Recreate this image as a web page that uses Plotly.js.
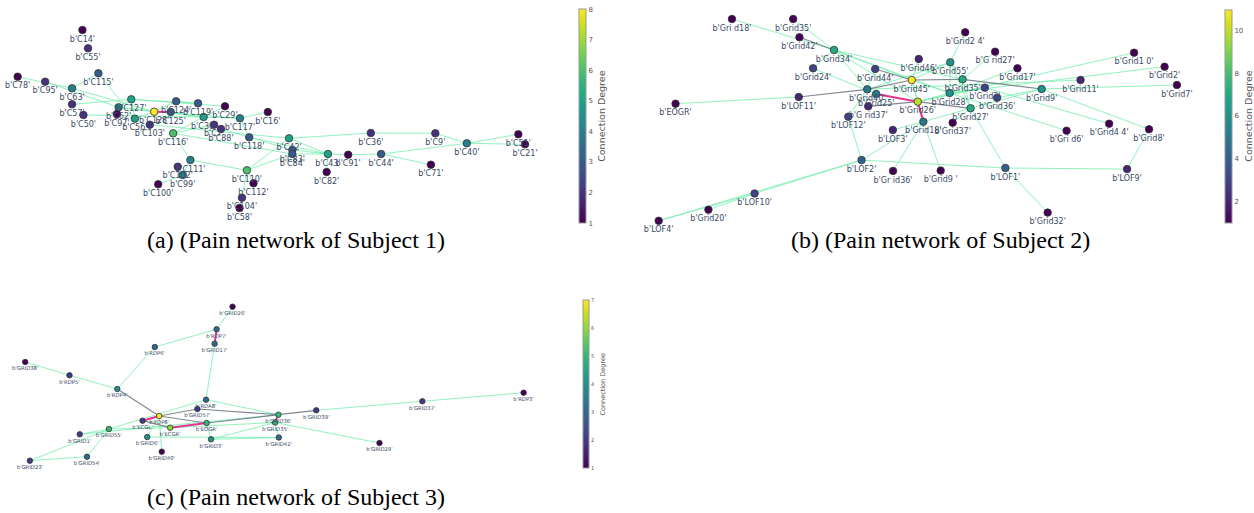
<!DOCTYPE html>
<html><head><meta charset="utf-8">
<script src="https://cdn.plot.ly/plotly-3.0.1.min.js"></script>
<style>html,body{margin:0;padding:0;background:#fff}#chart{width:1254px;height:513px}</style>
</head><body><div id="chart"></div>
<script>
// ---------- Panel (a): Subject 1 ----------
const idsA = ["C14","C55","C115","C78","C95","C63","C127","C124","C119","C29","C16","C57","C62","C97","C50","C128","C125","C56","C103","C30","C7","C88","C117","C116","C118","C42","C83","C84","C111","C102","C99","C100","C110","C112","C104","C58","C36","C9","C40","C51","C21","C43","C91","C44","C71","C82"];
const labelsA = idsA.map(s => "b'" + s + "'");
const xA = [82.7,88.3,98.7,17.7,45.3,72.3,131.7,176.7,198.7,225.7,268.7,72.3,119,117.3,83.7,154.7,171.3,135.3,150.3,204.3,214.7,221.7,240.7,173.7,250,290,293.3,293.3,191,178.3,183.3,158.7,247.7,254.3,242.7,240.3,372,436.7,468.3,520,526.7,329,349.3,382.3,432.3,327.7];
const yA = [30,48.3,73.3,76.7,81.7,88.3,99.3,101.3,103.3,106.3,112,104.3,107.3,114,115,111.7,112,118.7,124.7,117,124.7,129,118.3,133.3,137.3,138.3,150,154,160,166.7,175,184.3,170.3,183.3,197.7,208,133,133.3,143.3,134.3,144.3,154,154.7,154,164.7,172];
const degA = [1,2,3,1,2,4,5,3,3,1,1,2,4,1,2,8,3,5,2,5,2,2,4,6,3,5,3,3,4,2,4,1,6,1,2,1,2,2,4,1,1,5,1,3,1,1];
const edgesA = [
 ["C78","C63","g"],["C95","C62","g"],["C63","C128","g"],["C115","C63","g"],["C115","C56","g"],
 ["C57","C127","g"],["C127","C119","g"],["C127","C62","g"],["C127","C56","g"],["C127","C29","g"],
 ["C62","C128","g"],["C62","C30","g"],["C50","C30","g"],["C128","C125","m"],["C128","C124","g"],
 ["C128","C56","g"],["C128","C117","g"],["C124","C119","g"],["C125","C30","g"],["C29","C30","g"],
 ["C30","C117","g"],["C30","C116","g"],["C117","C16","g"],["C117","C118","g"],["C103","C42","g"],
 ["C116","C84","g"],["C116","C111","g"],["C111","C99","g"],["C111","C110","g"],["C102","C99","g"],
 ["C99","C100","g"],["C110","C42","g"],["C110","C84","g"],["C110","C112","g"],["C110","C104","g"],
 ["C104","C58","g"],["C118","C43","g"],["C42","C36","g"],["C42","C43","g"],["C36","C9","g"],
 ["C9","C40","g"],["C40","C51","g"],["C40","C21","g"],["C40","C44","g"],["C43","C91","g"],
 ["C91","C44","g"],["C44","C71","g"],["C43","C82","g"],["C83","C43","g"],["C84","C43","g"],
 ["C88","C83","g"],["C7","C116","g"]
];

// ---------- Panel (b): Subject 2 ----------
const idsB = ["Grid18a","Grid35a","Grid42","Grid34","Grid24","Grid44","Grid45","Grid40","Grid25","LOF11","EOGR","Grid37a","LOF12","Grid26","Grid24b","Grid27a","Grid46","Grid55","Grid17","Grid35b","Grid10","Grid2","Grid11","Grid7","Grid9","Grid3","Grid28","Grid36","Grid27","Grid18","Grid37","LOF3","Grid6","Grid44b","Grid8","LOF2","Grid36b","Grid9b","LOF1","LOF9","Grid32","LOF10","Grid20","LOF4"];
const labelsB = ["b'Gri d18'","b'Grid35'","b'Grid42'","b'Grid34'","b'Grid24'","b'Grid44'","b'Grid45'","b'Grid40'","b'Grid25'","b'LOF11'","b'EOGR'","b'G rid37'","b'LOF12'","b'Grid26'","b'Grid2 4'","b'G rid27'","b'Grid46'","b'Grid55'","b'Grid17'","b'Grid35'","b'Grid1 0'","b'Grid2'","b'Grid11'","b'Grid7'","b'Grid9'","b'Grid3'","b'Grid28'","b'Grid36'","b'Grid27'","b'Grid18'","b'Grid37'","b'LOF3'","b'Gri d6'","b'Grid4 4'","b'Grid8'","b'LOF2'","b'Gr id36'","b'Grid9 '","b'LOF1'","b'LOF9'","b'Grid32'","b'LOF10'","b'Grid20'","b'LOF4'"];
const xB = [734.3,795.7,802,836.7,815.7,878,914.7,870,879,801.3,677.7,871,851,920.7,968.3,998.3,921.7,953.3,1020.7,965.7,1137.7,1168.3,1084,1180.7,1045,988,952.7,1000.3,973.7,926.3,955.7,895.7,1070,1112.7,1152.7,864.3,895.9,943.7,1008.6,1130.7,1051,757,710.7,660.8];
const yB = [19,19,37.3,50,68.3,69,80,89.3,94,97,103.7,106.3,116.7,101.7,32.3,51.7,59,62.3,68.3,79.3,52.7,66.7,80,85,89,87.7,93,97.7,108.3,121.7,122.7,130,130.7,123.7,129.3,160.1,170.9,170.6,168,169.1,212.6,193.5,209.7,220.8];
const degB = [1,1,1,7,3,3,11,5,5,2,1,2,3,10,1,1,2,6,1,7,1,1,2,1,6,3,6,3,7,5,1,2,1,1,1,4,1,1,4,2,1,3,1,1];
const edgesB = [
 ["Grid18a","Grid34","g"],["Grid35a","Grid34","g"],["Grid42","Grid34","k"],["Grid34","Grid24","g"],
 ["Grid34","Grid45","g"],["Grid34","Grid35b","g"],["Grid34","Grid28","g"],["Grid34","Grid40","g"],
 ["Grid34","Grid26","g"],["Grid24","Grid25","g"],["Grid44","Grid45","k"],["Grid44","Grid40","g"],
 ["Grid45","Grid35b","k"],["Grid45","Grid40","k"],["Grid45","Grid46","g"],["Grid45","Grid55","g"],
 ["Grid35b","Grid9","k"],["Grid45","Grid26","g"],["Grid45","Grid28","g"],["Grid45","Grid18","g"],
 ["Grid25","Grid26","m"],["Grid26","Grid18","m"],["LOF11","Grid40","k"],["EOGR","LOF11","g"],
 ["Grid37a","Grid26","k"],["LOF12","Grid40","g"],["LOF12","LOF2","g"],["Grid26","Grid27","k"],
 ["Grid26","Grid28","g"],["Grid26","Grid3","g"],["Grid24b","Grid55","g"],["Grid27a","Grid35b","g"],
 ["Grid17","Grid28","g"],["Grid55","Grid27","g"],["Grid55","Grid28","g"],["Grid55","Grid35b","g"],
 ["Grid55","Grid40","g"],["Grid35b","Grid27","g"],["Grid10","Grid26","g"],["Grid2","Grid28","g"],
 ["Grid11","Grid40","g"],["Grid7","Grid9","g"],["Grid9","Grid36","g"],["Grid9","Grid27","g"],
 ["Grid9","Grid8","g"],["Grid3","Grid28","g"],["Grid3","Grid44b","g"],["Grid28","Grid6","g"],
 ["Grid27","Grid18","g"],["Grid27","LOF1","g"],["Grid18","LOF3","g"],["Grid18","Grid9b","g"],
 ["Grid18","Grid36b","g"],["Grid18","LOF2","g"],["Grid37","Grid27","g"],["LOF2","LOF1","g"],
 ["LOF1","LOF9","g"],["LOF9","Grid8","g"],["LOF1","Grid32","g"],["LOF2","LOF10","g"],
 ["LOF10","Grid20","g"],["LOF2","LOF4","g"],["LOF10","LOF4","g"]
];

// ---------- Panel (c): Subject 3 ----------
const idsC = ["GRID26","RDP7","GRID17","RDP6","GRID38","RDP5","RDP4","RDA8","GRID57","FDP8","ECGL","ECGR","EOGR","GRID55","GRID1","GRID6","GRID3","GRID40","GRID23","GRID54","GRID36","GRID35","GRID42","GRID39","GRID37","RDP3","GRID29"];
const labelsC = idsC.map(s => "b'" + s + "'");
const xC = [233.3,217.3,215.3,155.3,25.3,69.7,117.7,206.7,198,159.7,143,170.7,207.3,109.3,80,147.7,211.7,162.3,30,87.3,279.3,276,279.7,317.3,423.7,525.3,380.7];
const yC = [306.7,329.3,343.7,347,362,375.3,389,399.7,409,416,420.7,427.7,423,429,434.3,437,439.3,451.7,460.7,456.7,414.7,422.5,437.5,410.3,401.3,392.7,443];
const degC = [1,3,3,3,1,2,4,3,2,7,2,6,5,5,2,4,4,1,2,3,5,5,3,2,2,1,1];
const edgesC = [
 ["GRID26","RDP7","g"],["RDP7","GRID17","m"],["RDP7","RDP6","g"],["RDP6","RDP4","g"],
 ["GRID17","RDA8","g"],["GRID38","RDP5","g"],["RDP5","RDP4","g"],["RDP4","FDP8","k"],
 ["RDA8","GRID55","g"],["RDA8","GRID36","g"],["GRID57","FDP8","k"],["GRID57","GRID36","k"],
 ["FDP8","ECGL","m"],["FDP8","EOGR","k"],["FDP8","GRID6","g"],["FDP8","GRID40","g"],
 ["ECGL","ECGR","k"],["ECGR","EOGR","m"],["ECGR","GRID55","g"],["EOGR","GRID36","k"],
 ["EOGR","GRID3","g"],["GRID55","GRID1","g"],["GRID55","GRID54","g"],["GRID1","GRID36","g"],
 ["GRID6","GRID42","g"],["GRID3","GRID35","g"],["GRID23","GRID54","g"],["GRID23","GRID55","g"],
 ["GRID36","GRID39","k"],["GRID39","GRID37","g"],["GRID37","RDP3","g"],["GRID35","GRID29","g"],
 ["GRID35","GRID42","g"],["GRID36","GRID35","m"],["GRID3","GRID42","g"],["ECGR","GRID35","g"]
];

const captions = ["(a) (Pain network of Subject 1)", "(b) (Pain network of Subject 2)", "(c) (Pain network of Subject 3)"];

// ---------- drawing ----------
const edgeStyle = {
  g: {color: "rgba(110,238,170,0.85)", width: 0.9},
  k: {color: "rgba(105,115,125,0.85)", width: 1.2},
  m: {color: "#e8318f", width: 2}
};
const traces = [];
function addPanel(ids, labels, xs, ys, deg, edges, cax, msize, fsize) {
  const idx = {}; ids.forEach((s, i) => idx[s] = i);
  ["g", "k", "m"].forEach(t => {
    const ex = [], ey = [];
    edges.filter(e => e[2] === t).forEach(e => {
      const a = idx[e[0]], b = idx[e[1]];
      ex.push(xs[a], xs[b], null); ey.push(ys[a], ys[b], null);
    });
    traces.push({type: "scatter", mode: "lines", x: ex, y: ey, line: edgeStyle[t], hoverinfo: "skip"});
  });
  traces.push({
    type: "scatter", mode: "markers+text", x: xs, y: ys, text: labels, textposition: "bottom center",
    textfont: {family: "DejaVu Sans", size: fsize, color: "#3a4a66"},
    marker: {size: msize, color: deg, coloraxis: cax, line: {color: "#333", width: 0.8}},
    hoverinfo: "text"
  });
}
addPanel(idsA, labelsA, xA, yA, degA, edgesA, "coloraxis", 7.5, 8);
addPanel(idsB, labelsB, xB, yB, degB, edgesB, "coloraxis2", 7.5, 8);
addPanel(idsC, labelsC, xC, yC, degC, edgesC, "coloraxis3", 5.5, 5.3);

function cbar(xpx, topPx, botPx, th, tickvals, fs, tfs) {
  return {
    x: xpx / 1254, xanchor: "left", xpad: 0,
    y: 1 - (topPx + botPx) / 2 / 513, yanchor: "middle", ypad: 0,
    len: (botPx - topPx) / 513, lenmode: "fraction",
    thickness: th, thicknessmode: "pixels",
    outlinewidth: 1, outlinecolor: "#999",
    tickvals: tickvals, ticks: "", tickfont: {family: "DejaVu Sans", size: fs, color: "#555"},
    title: {text: "Connection Degree", side: "right", font: {family: "DejaVu Sans", size: tfs, color: "#555"}}
  };
}
const W = 1254, H = 513;
const layout = {
  width: W, height: H, margin: {l: 0, r: 0, t: 0, b: 0},
  paper_bgcolor: "#fff", plot_bgcolor: "#fff", showlegend: false,
  xaxis: {range: [0, W], visible: false, fixedrange: true},
  yaxis: {range: [H, 0], visible: false, fixedrange: true},
  coloraxis: {colorscale: "Viridis", cmin: 1, cmax: 8, colorbar: cbar(580.7, 9.3, 223, 7, [1,2,3,4,5,6,7,8], 7, 9.5)},
  coloraxis2: {colorscale: "Viridis", cmin: 1, cmax: 11, colorbar: cbar(1229, 9.3, 222.7, 7, [2,4,6,8,10], 7, 9.5)},
  coloraxis3: {colorscale: "Viridis", cmin: 1, cmax: 7, colorbar: cbar(584.7, 300.3, 468.3, 5.5, [1,2,3,4,5,6,7], 5, 6.5)},
  annotations: [
    {x: 297, y: 240, text: captions[0]},
    {x: 944, y: 240, text: captions[1]},
    {x: 297, y: 497, text: captions[2]}
  ].map(a => Object.assign(a, {xref: "x", yref: "y", showarrow: false, xanchor: "center", yanchor: "middle",
    font: {family: "Liberation Serif", size: 24, color: "#000"}}))
};
Plotly.newPlot("chart", traces, layout, {displayModeBar: false, staticPlot: true});
</script></body></html>
